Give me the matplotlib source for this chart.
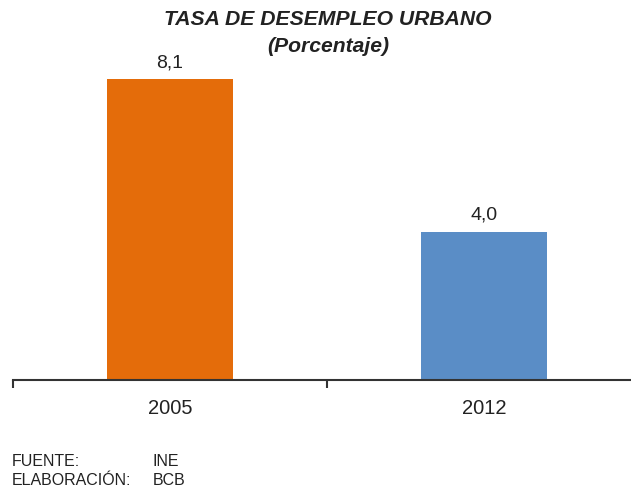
import matplotlib
matplotlib.use("Agg")
import matplotlib.pyplot as plt
from matplotlib.ticker import FixedLocator

plt.rcParams['font.family'] = ['Liberation Sans', 'DejaVu Sans']

# ── Data ─────────────────────────────────────────────────────────
years = ["2005", "2012"]
rates = [8.1, 4.0]
colors = ["#E46C0A", "#5A8DC6"]
labels = ["8,1", "4,0"]

W, H = 631, 489
TXT = "#222222"
fig = plt.figure(figsize=(W / 100, H / 100), dpi=100)

# axes spans one category width per year, right edge runs off the canvas
ax = fig.add_axes([13 / W, (H - 381) / H, 628 / W, 334 / H])

x = list(range(len(years)))
ax.bar(x, rates, width=0.4, color=colors, zorder=2)
for xi, v, lab in zip(x, rates, labels):
    ax.text(xi, v + 0.48, lab, ha="center", va="center", fontsize=14, color=TXT)

ax.set_xlim(-0.5, 1.5)
ax.set_ylim(0, 9)
ax.set_yticks([])
ax.set_xticks(x)
ax.set_xticklabels(years, fontsize=14.5, color=TXT)
ax.tick_params(axis="x", which="major", length=0, pad=13)
ax.xaxis.set_minor_locator(FixedLocator([-0.5, 0.5, 1.5]))
ax.tick_params(axis="x", which="minor", length=6, width=1.5, color="#333333", direction="out")

for s in ["top", "left", "right"]:
    ax.spines[s].set_visible(False)
ax.spines["bottom"].set_color("#333333")
ax.spines["bottom"].set_linewidth(1.5)

# title
fig.text(328 / W, 1 - 19.5 / H, "TASA DE DESEMPLEO URBANO", ha="center", va="center",
         fontsize=15.2, fontweight="bold", fontstyle="italic", color=TXT)
fig.text(328 / W, 1 - 46 / H, "(Porcentaje)", ha="center", va="center",
         fontsize=15.2, fontweight="bold", fontstyle="italic", color=TXT)

# source notes
fig.text(12 / W, 1 - 462 / H, "FUENTE:", ha="left", va="center", fontsize=11.5, color=TXT)
fig.text(153 / W, 1 - 462 / H, "INE", ha="left", va="center", fontsize=11.5, color=TXT)
fig.text(12 / W, 1 - 481 / H, "ELABORACIÓN:", ha="left", va="center", fontsize=11.5, color=TXT)
fig.text(153 / W, 1 - 481 / H, "BCB", ha="left", va="center", fontsize=11.5, color=TXT)

fig.savefig("out.png", dpi=100)
